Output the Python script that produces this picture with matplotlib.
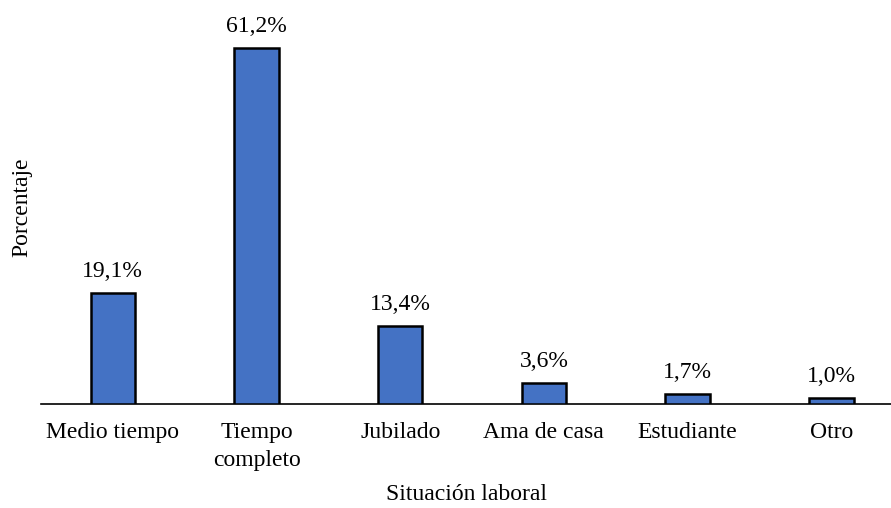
import matplotlib.pyplot as plt
import numpy as np

# Employment status shares
categories = ["Medio tiempo", "Tiempo\ncompleto", "Jubilado", "Ama de casa", "Estudiante", "Otro"]
percentages = [19.1, 61.2, 13.4, 3.6, 1.7, 1.0]

plt.rcParams['font.family'] = ['Liberation Serif', 'DejaVu Serif']

figure = plt.figure(figsize=(8.91, 5.08), dpi=100)
axes = figure.add_axes([41 / 891, (508 - 404) / 508, 850 / 891, 394 / 508])

positions = np.arange(len(categories))
bars = axes.bar(positions, percentages, width=0.31, color="#4472C4",
                edgecolor="black", linewidth=1.8, zorder=3)

# Value labels above each bar
for bar, value in zip(bars, percentages):
    axes.annotate(f"{value:.1f}%".replace(".", ","),
                  (bar.get_x() + bar.get_width() / 2, value),
                  xytext=(0, 8), textcoords="offset points",
                  ha="center", va="bottom", fontsize=17)

axes.set_xlim(-0.5, 5.416)
axes.set_ylim(0, 67.7)
axes.set_xticks(positions)
axes.set_xticklabels(categories, fontsize=17, linespacing=1.45)
axes.tick_params(axis="x", length=0, pad=13)
axes.set_yticks([])

for side in ("top", "right", "left"):
    axes.spines[side].set_visible(False)
axes.spines["bottom"].set_linewidth(1.2)

axes.set_xlabel("Situación laboral", fontsize=17)
axes.xaxis.set_label_coords(0.5, -0.203)
axes.set_ylabel("Porcentaje", fontsize=17, labelpad=6)

figure.savefig("out.png", dpi=100)
